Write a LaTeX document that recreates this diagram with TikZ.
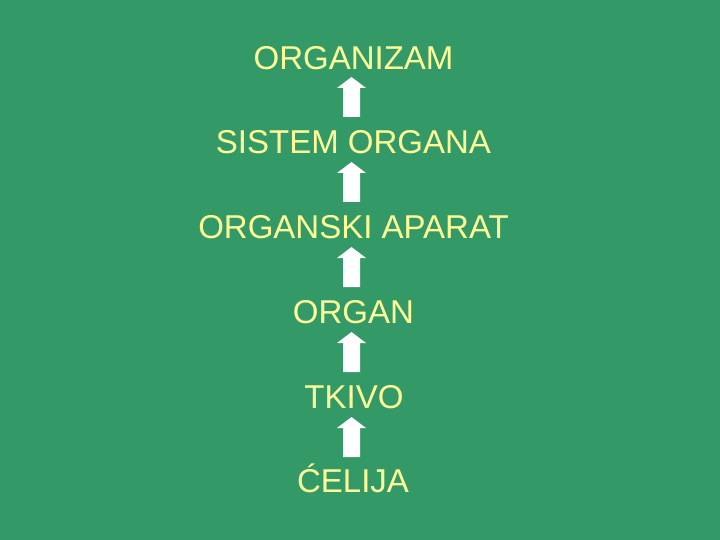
\documentclass[tikz,border=0pt]{standalone}
\usepackage{fontspec}
\setmainfont{Liberation Sans}
\definecolor{bg}{HTML}{339966}
\definecolor{txt}{HTML}{FFFF99}
\begin{document}
\begin{tikzpicture}[x=1pt,y=-1pt,
  lvl/.style={text=txt,anchor=base,inner sep=0pt,font=\fontsize{33}{33}\selectfont},
  uparrow/.style={fill=white}]
\fill[bg] (0,0) rectangle (720,540);
\useasboundingbox (0,0) rectangle (720,540);
\node[lvl] (l1) at (353.5,69.5) {ORGANIZAM};
\node[lvl] (l2) at (353.5,154) {SISTEM ORGANA};
\node[lvl] (l3) at (353.5,238.5) {ORGANSKI APARAT};
\node[lvl] (l4) at (353.5,323.5) {ORGAN};
\node[lvl] (l5) at (354,408) {TKIVO};
\node[lvl] (l6) at (353,492.5) {ĆELIJA};
\foreach \t in {77,162,247,332,417}{
  \fill[uparrow] (351.5,\t) -- (366,\t+11) -- (360,\t+11) -- (360,\t+40)
    -- (343,\t+40) -- (343,\t+11) -- (337,\t+11) -- cycle;
}
\end{tikzpicture}
\end{document}
